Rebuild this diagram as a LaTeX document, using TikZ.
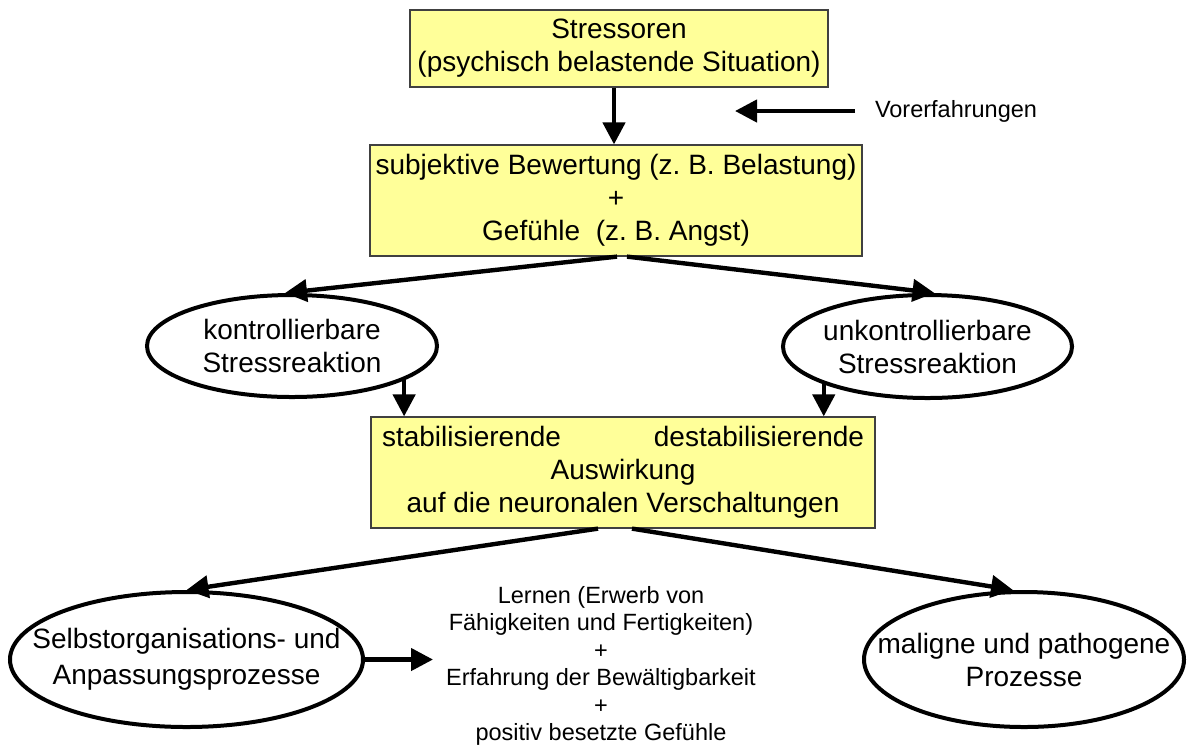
\documentclass[tikz,border=0pt]{standalone}
\usepackage{fontspec}
\setmainfont{Liberation Sans}
\usetikzlibrary{arrows.meta}
\usetikzlibrary{shapes.geometric}
\definecolor{boxgelb}{RGB}{255,255,153}

\begin{document}
\begin{tikzpicture} [x=0.5pt, y=-0.5pt,
  kasten/.style={draw=black!75, line width=0.6pt, fill=boxgelb, inner sep=0pt, align=center, font=\fontsize{14}{16.5}\selectfont},
  oval/.style={ellipse, draw=black, line width=2pt, inner xsep=-60pt, inner ysep=-25pt, align=center, font=\fontsize{14}{16.5}\selectfont},
  klein/.style={inner sep=0pt, align=center, font=\fontsize{11.75}{13.75}\selectfont},
  pfeil/.style={line width=2.2pt, ->, >={Triangle[length=11pt,width=11pt]}}]
\useasboundingbox (0,0) rectangle (1187,751);
\node[kasten, minimum width=209pt, minimum height=38.5pt] (stressoren) at (619,48.5) {Stressoren\\(psychisch belastende Situation)};
\node[kasten, minimum width=246pt, minimum height=55.5pt] (bewertung) at (616,200.5) {subjektive Bewertung (z.\ B. Belastung)\\+\\Gefühle\ \ (z.\ B. Angst)};
\node[kasten, minimum width=252pt, minimum height=55.5pt] (auswirkung) at (623,472.5) {\makebox[241pt]{stabilisierende\hfill destabilisierende}\\Auswirkung\\auf die neuronalen Verschaltungen};
\node[klein, anchor=west, outer sep=10pt] (vorerf) at (855,111) {Vorerfahrungen};
\coordinate (vorspitze) at (735,111);
\node[oval, minimum width=145pt, minimum height=51pt] (kontr) at (292,346) {kontrollierbare\\Stressreaktion};
\node[oval, minimum width=144.5pt, minimum height=51.5pt] (unkontr) at (927.5,346.5) {unkontrollierbare\\Stressreaktion};
\node[oval, minimum width=176.5pt, minimum height=67.5pt, font=\fontsize{14}{18}\selectfont] (selbst) at (186.5,659.5) {Selbstorganisations- und\\Anpassungsprozesse};
\node[oval, minimum width=160pt, minimum height=67.5pt] (maligne) at (1024,659.5) {maligne und pathogene\\Prozesse};
\node[klein, anchor=north] (lernen) at (601,586) {Lernen (Erwerb von\\Fähigkeiten und Fertigkeiten)\\+\\Erfahrung der Bewältigbarkeit\\+\\positiv besetzte Gefühle};
\coordinate (lernspitze) at (433,659.5);
\draw[pfeil] ([xshift=-2.5pt]stressoren.south) -- ([xshift=-1pt]bewertung.north);
\draw[pfeil] (vorerf.west) -- (vorspitze);
\draw[pfeil] ([xshift=0.5pt]bewertung.south) -- ([xshift=-3.5pt]kontr.north);
\draw[pfeil] ([xshift=5.5pt]bewertung.south) -- ([xshift=3.5pt]unkontr.north);
\foreach \ov/\w in {kontr/-17, unkontr/-160}
 \draw[pfeil] (\ov.\w) -- (\ov.\w |- auswirkung.north);
\draw[pfeil] ([xshift=-12.5pt]auswirkung.south) -- (selbst.north);
\draw[pfeil] ([xshift=4.5pt]auswirkung.south) -- ([xshift=-5.5pt]maligne.north);
\draw[pfeil] (selbst.east) -- (lernspitze);
\end{tikzpicture}
\end{document}
